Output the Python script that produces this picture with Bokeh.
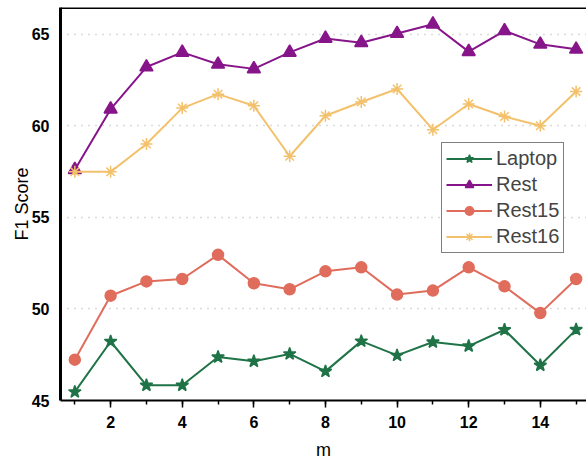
from bokeh.plotting import figure
from bokeh.models import FixedTicker, Span, Legend, LegendItem
from bokeh.embed import file_html
from bokeh.resources import INLINE

m = list(range(1, 16))
laptop = [45.47, 48.22, 45.83, 45.83, 47.37, 47.14, 47.54, 46.59, 48.24, 47.46, 48.19, 47.97, 48.86, 46.92, 48.87]
rest = [57.6, 60.9, 63.2, 64.0, 63.35, 63.1, 64.0, 64.76, 64.53, 65.03, 65.54, 64.04, 65.18, 64.44, 64.17]
rest15 = [47.23, 50.72, 51.5, 51.63, 52.95, 51.4, 51.07, 52.05, 52.27, 50.78, 51.0, 52.27, 51.23, 49.77, 51.63]
rest16 = [57.48, 57.48, 59.0, 60.96, 61.72, 61.09, 58.33, 60.54, 61.29, 62.0, 59.78, 61.18, 60.5, 60.0, 61.86]
x_major = [2, 4, 6, 8, 10, 12, 14]
y_major = [45, 50, 55, 60, 65]
x_title = "m"
y_title = "F1 Score"

FONT = "Liberation Sans"
X0, X1, Y0, Y1 = 0.6, 15.29, 45, 66.45

p = figure(width=586, height=462, x_range=(X0, X1), y_range=(Y0, Y1),
           output_backend="svg", toolbar_location=None,
           min_border_left=60, min_border_right=0, min_border_top=7, min_border_bottom=60)
p.outline_line_color = None
p.background_fill_color = "white"

series = [
    ("Laptop", laptop, "#1f7347", "star", 13),
    ("Rest", rest, "#87158a", "triangle", 13),
    ("Rest15", rest15, "#e06c5c", "circle", 11),
    ("Rest16", rest16, "#f3c16b", "asterisk", 12),
]
items = []
for name, vals, col, mk, sz in series:
    r1 = p.line(m, vals, line_color=col, line_width=2)
    r2 = p.scatter(m, vals, marker=mk, size=sz, fill_color=col, line_color=col, line_width=1.5)
    items.append(LegendItem(label=name, renderers=[r1, r2]))

legend = Legend(items=items, location=(381, 147))
legend.border_line_color = "black"
legend.border_line_width = 1
legend.background_fill_alpha = 1
legend.label_text_font = FONT
legend.label_text_font_size = "20px"
legend.glyph_width = 46
legend.glyph_height = 21
legend.label_height = 21
legend.spacing = 3
legend.padding = 4
legend.margin = 0
legend.label_standoff = 4
p.add_layout(legend)

# axes
p.xaxis.ticker = FixedTicker(ticks=x_major, minor_ticks=m)
p.yaxis.ticker = FixedTicker(ticks=y_major)
for ax in (p.xaxis[0], p.yaxis[0]):
    ax.major_label_text_font = FONT
    ax.major_label_text_font_style = "bold"
    ax.major_label_text_font_size = "16px"
    ax.major_label_text_color = "black"
    ax.axis_label_text_font = FONT
    ax.axis_label_text_font_style = "normal"
    ax.axis_label_text_font_size = "18px"
    ax.axis_label_text_color = "black"
    ax.axis_line_color = "black"

p.xaxis.axis_label = x_title
p.xaxis.axis_line_width = 2
p.xaxis.major_tick_line_color = "black"
p.xaxis.major_tick_line_width = 1.5
p.xaxis.major_tick_in = 0
p.xaxis.major_tick_out = 7
p.xaxis.minor_tick_line_color = "black"
p.xaxis.minor_tick_line_width = 1.5
p.xaxis.minor_tick_in = 0
p.xaxis.minor_tick_out = 4
p.xaxis.major_label_standoff = 8
p.xaxis.axis_label_standoff = 9

p.yaxis.axis_label = y_title
p.yaxis.axis_line_width = 3
p.yaxis.major_tick_line_color = None
p.yaxis.minor_tick_line_color = None
p.yaxis.major_label_standoff = 5
p.yaxis.axis_label_standoff = -3

p.xgrid.grid_line_color = None
p.ygrid.grid_line_color = "#b4b4b4"
p.ygrid.grid_line_dash = "1 6"
p.ygrid.grid_line_width = 1.5

p.add_layout(Span(location=Y1, dimension="width", line_color="black", line_width=3))

open("out.html", "w").write(file_html(p, INLINE))
